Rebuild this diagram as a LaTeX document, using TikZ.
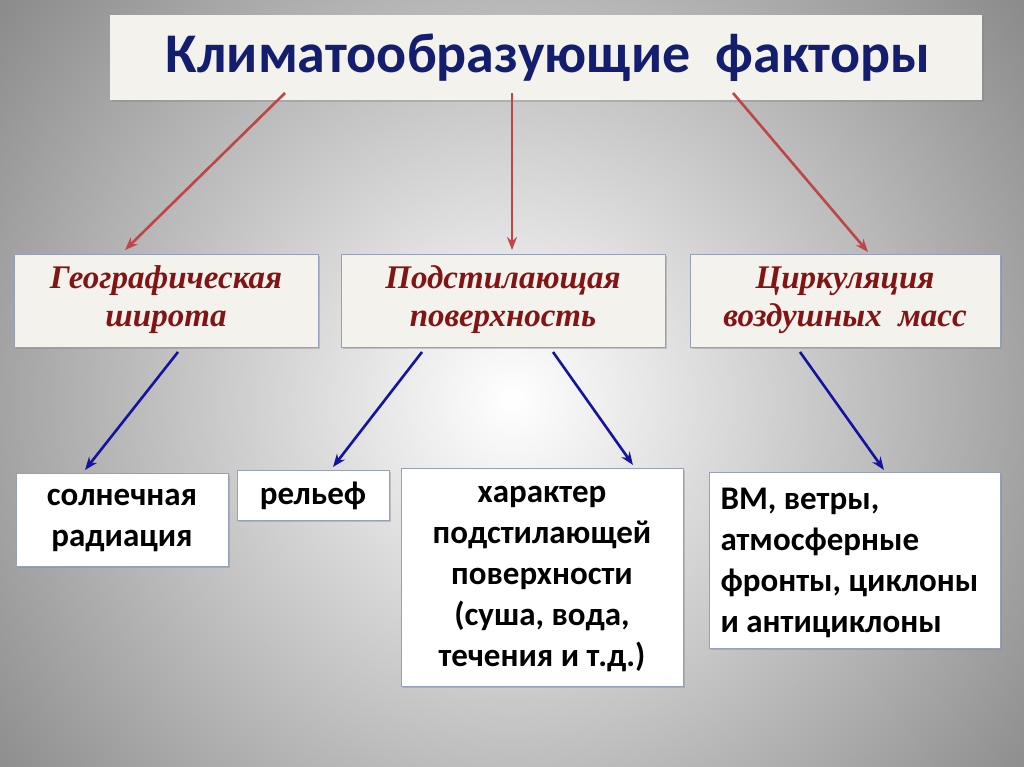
\documentclass[tikz,border=0pt]{standalone}
\usepackage{fontspec}
\setmainfont{Carlito}
\newfontfamily\serifcyr{Liberation Serif}
\usetikzlibrary{arrows.meta,shadows}
\definecolor{tblue}{RGB}{20,30,110}
\definecolor{tred}{RGB}{130,20,20}
\definecolor{ared}{RGB}{190,70,70}
\definecolor{ablue}{RGB}{20,20,160}
\definecolor{boxfill}{RGB}{244,242,236}
\definecolor{lvlborder}{RGB}{150,160,185}
\begin{document}
\begin{tikzpicture}[x=1pt,y=-1pt,
  top/.style={draw=none,fill=boxfill,drop shadow={opacity=0.35}},
  mid/.style={draw=lvlborder,fill=boxfill,drop shadow={opacity=0.35}},
  low/.style={draw=lvlborder,fill=white,drop shadow={opacity=0.35}},
  midtext/.style={font=\serifcyr\bfseries\itshape\fontsize{33}{38}\selectfont,text=tred,align=center},
  lowtext/.style={font=\bfseries\fontsize{33}{41}\selectfont,align=center},
  rarr/.style={draw=ared,line width=2.6pt,-{Stealth[length=13pt,width=10pt]}},
  barr/.style={draw=ablue,line width=2.6pt,-{Stealth[length=13pt,width=10pt]}}]
\useasboundingbox (0,0) rectangle (1024,767);
\begin{scope}
\clip (0,0) rectangle (1024,767);
\fill[black!45] (0,0) rectangle (1024,767);
\shade[inner color=white,outer color=black!45] (512,400) circle (640);
\end{scope}
% boxes
\path[top] (110,15) rectangle (982,100);
\node[font=\bfseries\fontsize{56}{60}\selectfont,text=tblue] (t) at (548,58) {Климатообразующие\ \ факторы};
\path[mid] (14,254) rectangle (318,347);
\path[mid] (341,254) rectangle (665,347);
\path[mid] (690,254) rectangle (1000,347);
\node[midtext] (g) at (166,300) {Географическая\\широта};
\node[midtext] (p) at (503,300) {Подстилающая\\поверхность};
\node[midtext] (c) at (845,300) {Циркуляция\\воздушных\ \ масс};
\path[low] (16,473) rectangle (228,566);
\path[low] (237,470) rectangle (389,520);
\path[low] (401,468) rectangle (683,686);
\path[low] (709,472) rectangle (1000,648);
\node[lowtext] (s) at (122,521) {солнечная\\радиация};
\node[lowtext] (r) at (313,496) {рельеф};
\node[lowtext] (h) at (542,579) {характер\\подстилающей\\поверхности\\(суша, вода,\\течения и т.д.)};
\node[lowtext,align=left,anchor=west] (v) at (717,563) {ВМ, ветры,\\атмосферные\\фронты, циклоны\\и антициклоны};
% arrow anchors
\coordinate (t1) at (285,93); \coordinate (t2) at (512,93); \coordinate (t3) at (733,93);
\coordinate (g1) at (125,250); \coordinate (p1) at (512,250); \coordinate (c1) at (868,252);
\draw[rarr] (t1) -- (g1);
\draw[rarr] (t2) -- (p1);
\draw[rarr] (t3) -- (c1);
\coordinate (ga) at (178,352); \coordinate (sa) at (85,470);
\coordinate (pa) at (422,352); \coordinate (ra) at (333,467);
\coordinate (pb) at (553,352); \coordinate (ha) at (633,465);
\coordinate (ca) at (800,352); \coordinate (va) at (884,470);
\draw[barr] (ga) -- (sa);
\draw[barr] (pa) -- (ra);
\draw[barr] (pb) -- (ha);
\draw[barr] (ca) -- (va);
\end{tikzpicture}
\end{document}
